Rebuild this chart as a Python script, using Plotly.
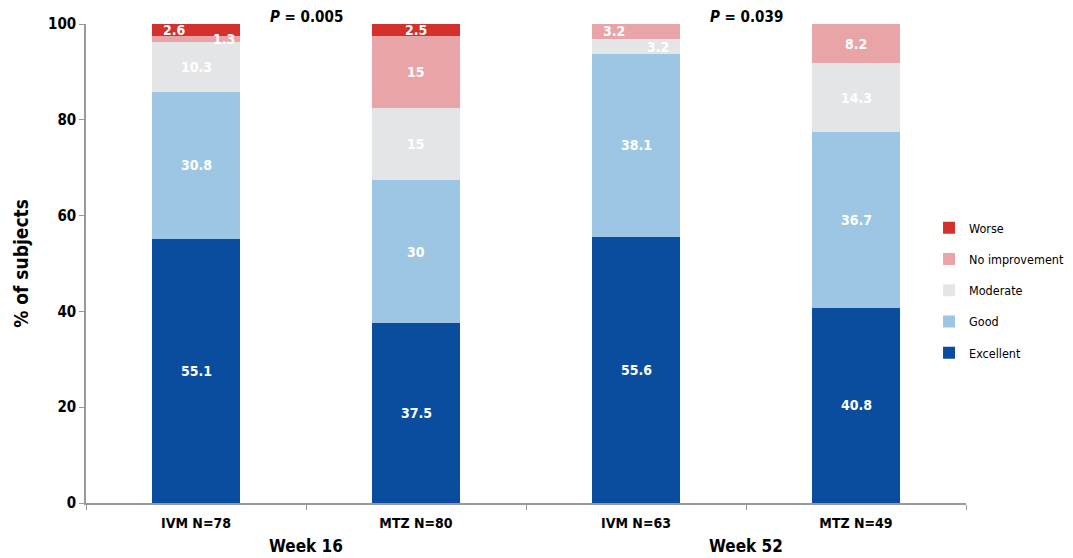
import plotly.graph_objects as go

categories = ["IVM N=78", "MTZ N=80", "IVM N=63", "MTZ N=49"]
excellent = [55.1, 37.5, 55.6, 40.8]
good = [30.8, 30.0, 38.1, 36.7]
moderate = [10.3, 15.0, 3.2, 14.3]
no_improvement = [1.3, 15.0, 3.2, 8.2]
worse = [2.6, 2.5, 0.0, 0.0]

series_names = ["Excellent", "Good", "Moderate", "No improvement", "Worse"]
series_values = [excellent, good, moderate, no_improvement, worse]
colors = ["#0a4d9f", "#9cc6e3", "#e4e5e7", "#e8a4a6", "#d3302e"]
# horizontal label offsets (px) for thin segments
label_shift = {
    ("No improvement", 0): 28, ("Worse", 0): -22,
    ("No improvement", 2): -22, ("Moderate", 2): 22,
}

week_labels = ["Week 16", "Week 52"]
p_values = ["0.005", "0.039"]

FONT = "DejaVu Sans Condensed, Liberation Sans, sans-serif"

fig = go.Figure()
n = len(series_names)
for i, (name, vals, col) in enumerate(zip(series_names, series_values, colors)):
    fig.add_trace(go.Bar(
        x=categories, y=vals, name=name, marker_color=col,
        marker_line_width=0, width=0.4, legendgroup=name,
        legendrank=n - i, hoverinfo="y+name",
    ))

annotations = []
for ci, cat in enumerate(categories):
    cum = 0
    for name, vals in zip(series_names, series_values):
        v = vals[ci]
        if v > 0:
            mid = cum + v / 2
            annotations.append(dict(
                x=cat, y=mid, text="<b>%g</b>" % v, showarrow=False,
                xshift=label_shift.get((name, ci), 0),
                font=dict(family=FONT, size=14, color="white"),
            ))
        cum += v

for wi, (wk, pv) in enumerate(zip(week_labels, p_values)):
    xpos = 0.5 + 2 * wi
    annotations.append(dict(
        x=xpos, y=0, xref="x", yref="paper", yanchor="top", yshift=-31,
        text="<b>%s</b>" % wk, showarrow=False,
        font=dict(family=FONT, size=17, color="black"),
    ))
    annotations.append(dict(
        x=xpos, y=1, xref="x", yref="paper", yanchor="bottom", yshift=-4,
        text="<b><i>P</i> = %s</b>" % pv, showarrow=False,
        font=dict(family=FONT, size=15, color="black"),
    ))

fig.update_layout(
    width=1065, height=550,
    barmode="stack",
    plot_bgcolor="white", paper_bgcolor="white",
    margin=dict(l=78, r=107, t=16, b=55, autoexpand=False),
    font=dict(family=FONT, color="black"),
    annotations=annotations,
    legend=dict(
        x=0.958, y=0.605, xanchor="left", yanchor="top",
        traceorder="grouped", tracegroupgap=12,
        font=dict(family=FONT, size=12.5, color="black"),
        itemwidth=30, bgcolor="rgba(0,0,0,0)",
    ),
    xaxis=dict(
        range=[-0.5, 3.5], showline=True, linecolor="#999999", linewidth=1.5,
        ticks="outside", tickson="boundaries", ticklen=5, tickcolor="#999999",
        tickfont=dict(family=FONT, size=14, color="black"),
        tickprefix="<b>", ticksuffix="</b>", ticklabelstandoff=6,
        automargin=False,
    ),
    yaxis=dict(
        range=[0, 100], dtick=20, showline=True, linecolor="#999999", linewidth=1.5,
        ticks="outside", ticklen=5, tickcolor="#999999", showgrid=False,
        tickfont=dict(family=FONT, size=15, color="black"),
        tickprefix="<b>", ticksuffix="</b>", automargin=False,
        title=dict(text="<b>% of subjects</b>", font=dict(family=FONT, size=19), standoff=14),
    ),
)

fig.write_html("out.html")
